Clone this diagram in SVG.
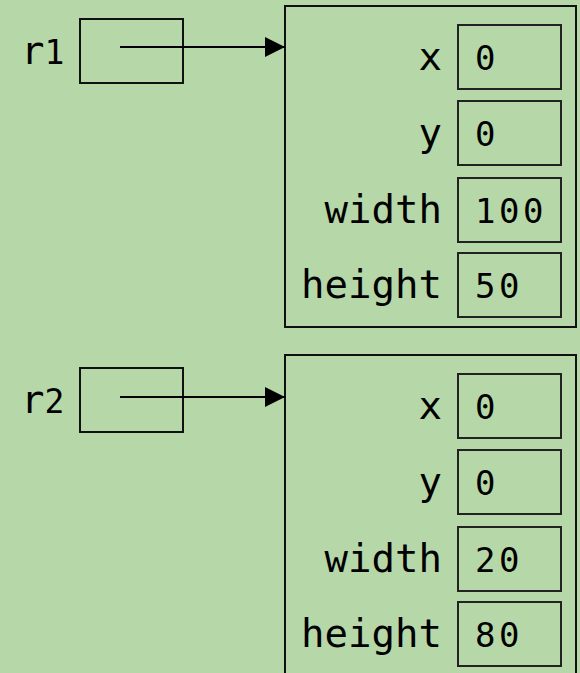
<svg xmlns="http://www.w3.org/2000/svg" width="580" height="673" viewBox="0 0 580 673">
  <style>
    .bg { fill: #b6d7a8; }
    .box { fill: none; stroke: #111; stroke-width: 2; }
    .cell { fill: none; stroke: #222; stroke-width: 2; }
    .conn { stroke: #000; stroke-width: 2; fill: none; }
    text { font-family: "DejaVu Sans Mono", "Liberation Mono", monospace; font-size: 39px; fill: #000; }
    .lbl { text-anchor: end; }
    .num { font-size: 34px; letter-spacing: 3.5px; }
  </style>
  <defs>
    <marker id="arrow" viewBox="0 0 20 20" refX="20" refY="10" markerWidth="20" markerHeight="20" markerUnits="userSpaceOnUse" orient="auto">
      <path d="M0,0 L20,10 L0,20 Z" fill="#000"/>
    </marker>
  </defs>

  <rect class="bg" x="0" y="0" width="580" height="673"/>

  <!-- variable r1 -->
  <g id="r1">
    <text x="21" y="64">r<tspan font-size="33">1</tspan></text>
    <rect class="box" x="80" y="19" width="103" height="64"/>
  </g>

  <!-- object referenced by r1 -->
  <g id="rect1">
    <rect class="box" x="285" y="6" width="291" height="321"/>
    <text class="lbl" x="442" y="70">x</text>
    <rect class="cell" x="458" y="25" width="103" height="64"/>
    <text class="num" x="475" y="70">0</text>
    <text class="lbl" x="442" y="146">y</text>
    <rect class="cell" x="458" y="101" width="103" height="64"/>
    <text class="num" x="475" y="146">0</text>
    <text class="lbl" x="442" y="223">width</text>
    <rect class="cell" x="458" y="178" width="103" height="64"/>
    <text class="num" x="475" y="223">100</text>
    <text class="lbl" x="442" y="298">height</text>
    <rect class="cell" x="458" y="253" width="103" height="64"/>
    <text class="num" x="475" y="298">50</text>
  </g>

  <!-- variable r2 -->
  <g id="r2">
    <text x="21" y="413">r<tspan font-size="33">2</tspan></text>
    <rect class="box" x="80" y="368" width="103" height="64"/>
  </g>

  <!-- object referenced by r2 -->
  <g id="rect2">
    <rect class="box" x="285" y="355" width="291" height="330"/>
    <text class="lbl" x="442" y="419">x</text>
    <rect class="cell" x="458" y="374" width="103" height="64"/>
    <text class="num" x="475" y="419">0</text>
    <text class="lbl" x="442" y="495">y</text>
    <rect class="cell" x="458" y="450" width="103" height="64"/>
    <text class="num" x="475" y="495">0</text>
    <text class="lbl" x="442" y="572">width</text>
    <rect class="cell" x="458" y="527" width="103" height="64"/>
    <text class="num" x="475" y="572">20</text>
    <text class="lbl" x="442" y="647">height</text>
    <rect class="cell" x="458" y="602" width="103" height="64"/>
    <text class="num" x="475" y="647">80</text>
  </g>

  <g id="connectors">
    <line class="conn" x1="120" y1="47" x2="285" y2="47" marker-end="url(#arrow)"/>
    <line class="conn" x1="120" y1="397" x2="285" y2="397" marker-end="url(#arrow)"/>
  </g>
</svg>
